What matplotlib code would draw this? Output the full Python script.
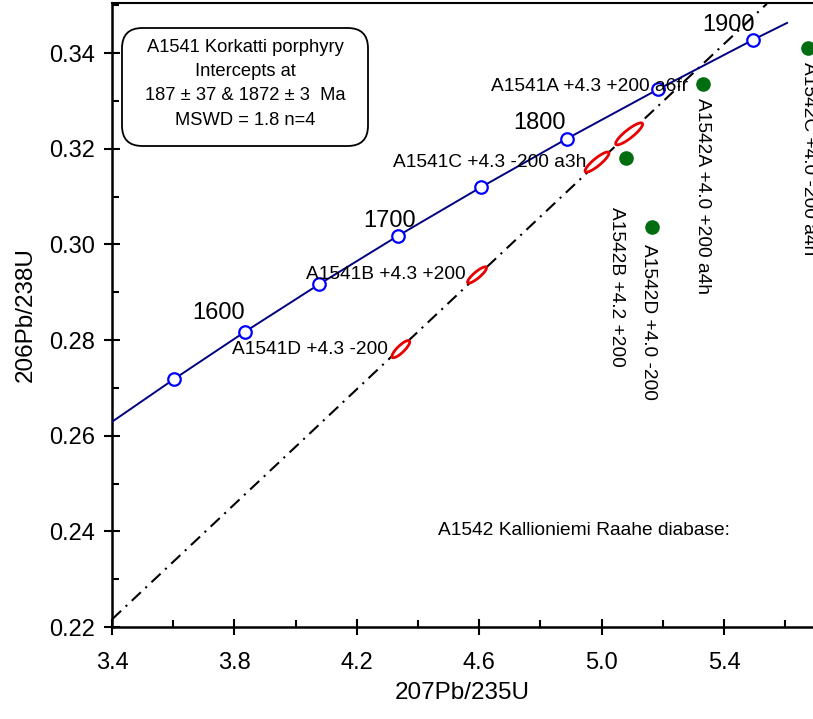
import numpy as np
import matplotlib
matplotlib.use("Agg")
import matplotlib.pyplot as plt
from matplotlib.patches import FancyBboxPatch
from matplotlib.ticker import FixedLocator, MultipleLocator, FormatStrFormatter

plt.rcParams["font.family"] = ["Liberation Sans", "DejaVu Sans"]

# concordia curve, ends plus the 50 Ma age marks
concordia_x = [3.40, 3.602, 3.834, 4.078, 4.335, 4.6045, 4.887, 5.184, 5.496, 5.606]
concordia_y = [0.2629, 0.2718, 0.2817, 0.2917, 0.3018, 0.3119, 0.3221, 0.3324, 0.3428, 0.3463]
age_x = [3.602, 3.834, 4.078, 4.335, 4.6045, 4.887, 5.184, 5.496]
age_y = [0.2718, 0.2817, 0.2917, 0.3018, 0.3119, 0.3221, 0.3324, 0.3428]
age_labels = ["1600", "1700", "1800", "1900"]
age_label_x = [3.661, 4.220, 4.710, 5.328]
age_label_y = [0.2857, 0.3049, 0.3254, 0.3459]

# discordia through the A1541 fractions
discordia_x = [3.40, 5.54]
discordia_y = [0.2216, 0.3503]

# A1541 analyses: ratio, 2 sigma, correlation
a1541_names = ["A1541A +4.3 +200 a6fr", "A1541C +4.3 -200 a3h",
               "A1541B +4.3 +200", "A1541D +4.3 -200"]
a1541_x = [5.090, 4.985, 4.593, 4.344]
a1541_sx = [0.044, 0.039, 0.031, 0.029]
a1541_y = [0.3231, 0.3172, 0.2936, 0.2781]
a1541_sy = [0.0023, 0.0021, 0.0017, 0.0018]
a1541_rho = [0.88, 0.88, 0.87, 0.84]
a1541_label_x = [4.639, 4.318, 4.034, 3.792]
a1541_label_y = [0.3329, 0.3172, 0.2936, 0.2781]

# A1542 analyses
a1542_names = ["A1542A +4.0 +200 a4h", "A1542B +4.2 +200",
               "A1542D +4.0 -200", "A1542C +4.0 -200 a4h"]
a1542_x = [5.331, 5.080, 5.165, 5.675]
a1542_y = [0.3336, 0.3181, 0.3036, 0.3411]
a1542_label_x = [5.331, 5.050, 5.152, 5.675]
a1542_label_y = [0.3306, 0.3078, 0.3000, 0.3381]

x_major = [3.4, 3.8, 4.2, 4.6, 5.0, 5.4]
x_minor = [3.6, 4.0, 4.4, 4.8, 5.2, 5.6]

fig = plt.figure(figsize=(8.13, 7.19), dpi=100)
ax = fig.add_axes([112 / 813, 92 / 719, 700 / 813, 624 / 719])
ax.set_xlim(3.4, 3.4 + 700 / 306)
ax.set_ylim(0.22, 0.22 + 624 / 4783)

ax.plot(concordia_x, concordia_y, color="#000080", lw=1.4, zorder=3)
ax.plot(age_x, age_y, ls="none", marker="o", ms=9, mfc="white",
        mec="#0000ff", mew=1.6, zorder=4)
for lab, lx, ly in zip(age_labels, age_label_x, age_label_y):
    ax.text(lx, ly, lab, fontsize=17, ha="left", va="center", zorder=6)

ax.plot(discordia_x, discordia_y, color="black", lw=1.5,
        dashes=(6, 3, 1, 3), zorder=2)

t = np.linspace(0, 2 * np.pi, 200)
for x, sx, y, sy, r in zip(a1541_x, a1541_sx, a1541_y, a1541_sy, a1541_rho):
    ex = x + sx * np.cos(t)
    ey = y + sy * (r * np.cos(t) + np.sqrt(1 - r ** 2) * np.sin(t))
    ax.fill(ex, ey, facecolor="white", edgecolor="#e80000", lw=2.0, zorder=5)
for lab, lx, ly in zip(a1541_names, a1541_label_x, a1541_label_y):
    ax.text(lx, ly, lab, fontsize=13.8, ha="left", va="center", zorder=6)

ax.plot(a1542_x, a1542_y, ls="none", marker="o", ms=9.5, color="#006e10",
        zorder=5)
for lab, lx, ly in zip(a1542_names, a1542_label_x, a1542_label_y):
    ax.text(lx, ly, lab, fontsize=13.8, rotation=270, ha="center", va="top",
            zorder=6)

ax.text(4.465, 0.2401, "A1542 Kallioniemi Raahe diabase:", fontsize=13.8,
        ha="left", va="center")

# summary box for the A1541 intercepts
box = FancyBboxPatch((122 / 813, 573 / 719), 246 / 813, 118 / 719,
                     boxstyle="round,pad=0,rounding_size=0.025",
                     mutation_aspect=813 / 719, transform=fig.transFigure,
                     facecolor="white", edgecolor="black", lw=1.3, zorder=7)
fig.patches.append(box)
box_lines = ["A1541 Korkatti porphyry", "Intercepts at",
             "187 ± 37 & 1872 ± 3  Ma", "MSWD = 1.8 n=4"]
for i, line in enumerate(box_lines):
    fig.text(245 / 813, (719 - 47 - 24.5 * i) / 719, line, fontsize=13.2,
             ha="center", va="center", zorder=8)

ax.spines["right"].set_visible(False)
for side in ["left", "bottom"]:
    ax.spines[side].set_linewidth(1.8)
ax.spines["top"].set_linewidth(1.5)

ax.xaxis.set_major_locator(FixedLocator(x_major))
ax.xaxis.set_minor_locator(FixedLocator(x_minor))
ax.yaxis.set_major_locator(MultipleLocator(0.02))
ax.yaxis.set_minor_locator(MultipleLocator(0.01))
ax.xaxis.set_major_formatter(FormatStrFormatter("%.1f"))
ax.yaxis.set_major_formatter(FormatStrFormatter("%.2f"))
ax.tick_params(which="major", direction="inout", length=12, width=1.5,
               labelsize=17)
ax.tick_params(which="minor", direction="in", length=5, width=1.5)
ax.tick_params(axis="x", which="major", pad=12)
ax.tick_params(axis="y", which="major", pad=6)
ax.tick_params(top=False, right=False, which="both")

ax.set_xlabel("207Pb/235U", fontsize=17.5, labelpad=6)
ax.set_ylabel("206Pb/238U", fontsize=17.5, labelpad=9)

fig.savefig("out.png", dpi=100)
